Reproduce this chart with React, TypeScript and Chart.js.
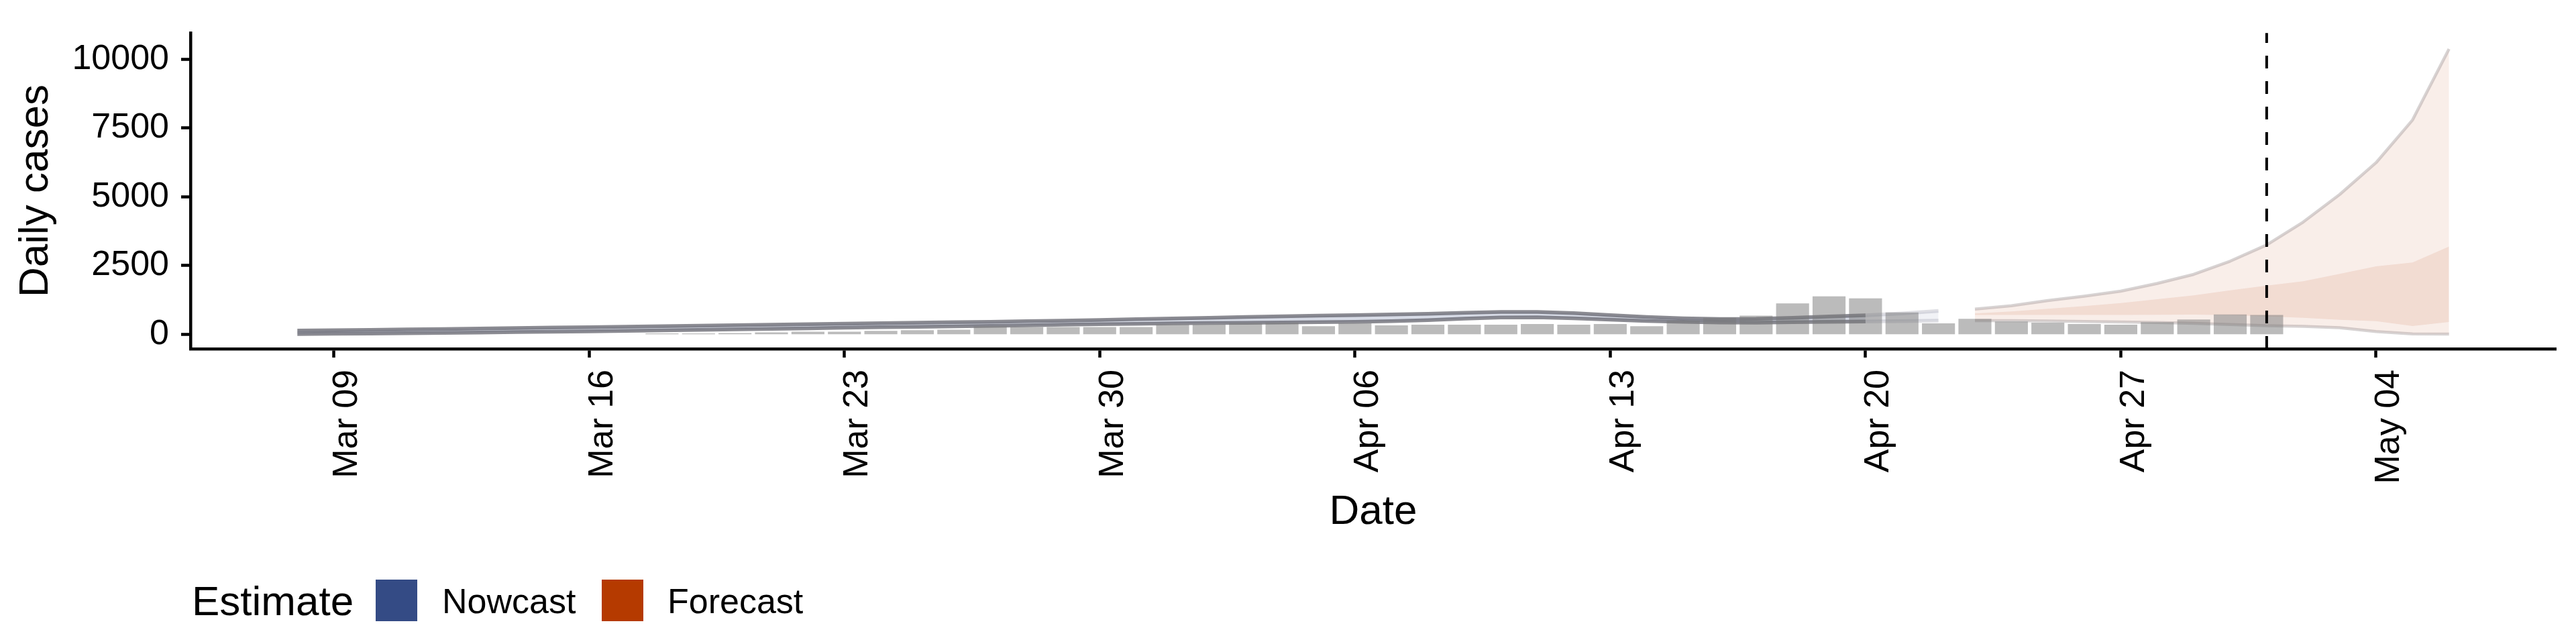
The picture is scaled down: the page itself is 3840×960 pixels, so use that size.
import React, { useEffect, useRef } from "react";
import { Chart, registerables } from "chart.js";

Chart.register(...registerables);

const ORIGIN = "2020-03-09";

const tickDates = ["2020-03-09", "2020-03-16", "2020-03-23", "2020-03-30", "2020-04-06", "2020-04-13", "2020-04-20", "2020-04-27", "2020-05-04"];
const tickLabels = ["Mar 09", "Mar 16", "Mar 23", "Mar 30", "Apr 06", "Apr 13", "Apr 20", "Apr 27", "May 04"];
const yTickValues = [0, 2500, 5000, 7500, 10000];

const caseDates = [
  "2020-03-18", "2020-03-19", "2020-03-20", "2020-03-21", "2020-03-22", "2020-03-23", "2020-03-24", "2020-03-25", "2020-03-26", "2020-03-27",
  "2020-03-28", "2020-03-29", "2020-03-30", "2020-03-31", "2020-04-01", "2020-04-02", "2020-04-03", "2020-04-04", "2020-04-05", "2020-04-06",
  "2020-04-07", "2020-04-08", "2020-04-09", "2020-04-10", "2020-04-11", "2020-04-12", "2020-04-13", "2020-04-14", "2020-04-15", "2020-04-16",
  "2020-04-17", "2020-04-18", "2020-04-19", "2020-04-20", "2020-04-21", "2020-04-22", "2020-04-23", "2020-04-24", "2020-04-25", "2020-04-26",
  "2020-04-27", "2020-04-28", "2020-04-29", "2020-04-30", "2020-05-01",
];
const caseCounts = [
  25, 25, 40, 63, 85, 85, 117, 140, 163, 280,
  257, 257, 257, 257, 350, 350, 397, 414, 290, 390,
  320, 343, 343, 343, 367, 343, 367, 290, 495, 595,
  670, 1115, 1372, 1302, 788, 390, 554, 460, 414, 367,
  343, 437, 530, 717, 694,
];

const nowcastDates = [
  "2020-03-08", "2020-03-09", "2020-03-10", "2020-03-11", "2020-03-12", "2020-03-13", "2020-03-14", "2020-03-15", "2020-03-16", "2020-03-17",
  "2020-03-18", "2020-03-19", "2020-03-20", "2020-03-21", "2020-03-22", "2020-03-23", "2020-03-24", "2020-03-25", "2020-03-26", "2020-03-27",
  "2020-03-28", "2020-03-29", "2020-03-30", "2020-03-31", "2020-04-01", "2020-04-02", "2020-04-03", "2020-04-04", "2020-04-05", "2020-04-06",
  "2020-04-07", "2020-04-08", "2020-04-09", "2020-04-10", "2020-04-11", "2020-04-12", "2020-04-13", "2020-04-14", "2020-04-15", "2020-04-16",
  "2020-04-17", "2020-04-18", "2020-04-19", "2020-04-20", "2020-04-21", "2020-04-22",
];
const nowcastUpper = [
  140, 150, 165, 180, 195, 210, 228, 245, 262, 280,
  298, 316, 334, 352, 370, 388, 405, 422, 440, 458,
  478, 500, 525, 550, 575, 602, 630, 655, 678, 698,
  722, 750, 785, 815, 815, 770, 700, 630, 585, 560,
  565, 600, 650, 690, 760, 850,
];
const nowcastLower = [
  10, 20, 30, 42, 55, 68, 82, 96, 110, 125,
  142, 160, 180, 200, 220, 240, 258, 275, 292, 310,
  330, 350, 368, 385, 398, 410, 421, 432, 444, 458,
  480, 515, 570, 612, 618, 585, 535, 485, 455, 430,
  425, 440, 455, 465, 480, 500,
];
const partialFrom = "2020-04-20";

const forecastDates = [
  "2020-04-23", "2020-04-24", "2020-04-25", "2020-04-26", "2020-04-27", "2020-04-28", "2020-04-29",
  "2020-04-30", "2020-05-01", "2020-05-02", "2020-05-03", "2020-05-04", "2020-05-05", "2020-05-06",
];
const forecastOuterLower = [500, 495, 485, 470, 450, 430, 400, 360, 315, 290, 240, 100, 15, 10];
const forecastInnerLower = [705, 705, 705, 705, 705, 710, 715, 700, 650, 600, 530, 480, 300, 450];
const forecastInnerUpper = [760, 830, 930, 1030, 1140, 1280, 1420, 1600, 1770, 1930, 2200, 2470, 2610, 3190];
const forecastOuterUpper = [920, 1040, 1230, 1390, 1570, 1850, 2180, 2660, 3250, 4080, 5080, 6240, 7790, 10370];

const forecastCutoff = "2020-05-01";

const NOWCAST_COLOR = "#344b85";
const FORECAST_COLOR = "#b53a00";
const FONT = "'Liberation Sans', Arial, Helvetica, sans-serif";

const dayOf = (s: string) => (Date.parse(s) - Date.parse(ORIGIN)) / 86400000;
const pts = (dates: string[], vals: number[]) => dates.map((d, i) => ({ x: dayOf(d), y: vals[i] }));

export default function App() {
  const ref = useRef<HTMLCanvasElement | null>(null);

  useEffect(() => {
    document.body.style.margin = "0";
    const canvas = ref.current;
    if (!canvas) return;
    Chart.defaults.font.family = FONT;
    Chart.defaults.color = "#000";

    const partialDay = dayOf(partialFrom);
    const nowcastLine = "rgba(100,100,110,0.75)";
    const nowcastLineFaded = "rgba(150,150,165,0.3)";
    const nowcastFill = "rgba(54,76,132,0.2)";
    const nowcastFillFaded = "rgba(54,76,132,0.07)";
    const forecastLine = "rgba(160,150,150,0.42)";

    const overlay = {
      id: "overlay",
      afterDatasetsDraw(chart: any) {
        const { ctx, chartArea, scales } = chart;
        const x = scales.x.getPixelForValue(dayOf(forecastCutoff));
        ctx.save();
        ctx.strokeStyle = "#000";
        ctx.lineWidth = 4;
        ctx.setLineDash([19, 19]);
        ctx.beginPath();
        ctx.moveTo(x, chartArea.bottom);
        ctx.lineTo(x, chartArea.top);
        ctx.stroke();
        ctx.restore();
      },
      afterDraw(chart: any) {
        const { ctx } = chart;
        ctx.save();
        ctx.fillStyle = "#000";
        ctx.textBaseline = "alphabetic";
        ctx.textAlign = "left";
        ctx.font = `62px ${FONT}`;
        ctx.fillText("Estimate", 286, 917);
        ctx.fillStyle = NOWCAST_COLOR;
        ctx.fillRect(560, 864, 62, 62);
        ctx.fillStyle = FORECAST_COLOR;
        ctx.fillRect(897, 864, 62, 62);
        ctx.fillStyle = "#000";
        ctx.font = `52px ${FONT}`;
        ctx.fillText("Nowcast", 659, 914);
        ctx.fillText("Forecast", 995, 914);
        ctx.restore();
      },
    };

    const lineBase = { type: "line", pointRadius: 0, tension: 0, borderJoinStyle: "round" };

    const chart = new Chart(canvas, {
      type: "line",
      data: {
        datasets: [
          {
            ...lineBase,
            label: "nowcast lower",
            data: pts(nowcastDates, nowcastLower),
            borderColor: nowcastLine,
            borderWidth: 5.5,
            fill: false,
            order: 3,
            segment: { borderColor: (c: any) => (c.p0.parsed.x >= partialDay ? nowcastLineFaded : nowcastLine) },
          },
          {
            ...lineBase,
            label: "nowcast upper",
            data: pts(nowcastDates, nowcastUpper),
            borderColor: nowcastLine,
            borderWidth: 5.5,
            backgroundColor: nowcastFill,
            fill: "-1",
            order: 3,
            segment: {
              borderColor: (c: any) => (c.p0.parsed.x >= partialDay ? nowcastLineFaded : nowcastLine),
              backgroundColor: (c: any) => (c.p0.parsed.x >= partialDay ? nowcastFillFaded : nowcastFill),
            },
          },
          {
            ...lineBase,
            label: "forecast outer lower",
            data: pts(forecastDates, forecastOuterLower),
            borderColor: forecastLine,
            borderWidth: 4.5,
            fill: false,
            order: 4,
          },
          {
            ...lineBase,
            label: "forecast outer upper",
            data: pts(forecastDates, forecastOuterUpper),
            borderColor: forecastLine,
            borderWidth: 4.5,
            backgroundColor: "rgba(181,58,0,0.085)",
            fill: "-1",
            order: 4,
          },
          {
            ...lineBase,
            label: "forecast inner lower",
            data: pts(forecastDates, forecastInnerLower),
            borderWidth: 0,
            borderColor: "rgba(0,0,0,0)",
            fill: false,
            order: 5,
          },
          {
            ...lineBase,
            label: "forecast inner upper",
            data: pts(forecastDates, forecastInnerUpper),
            borderWidth: 0,
            borderColor: "rgba(0,0,0,0)",
            backgroundColor: "rgba(181,58,0,0.1)",
            fill: "-1",
            order: 5,
          },
          {
            type: "bar",
            label: "cases",
            data: pts(caseDates, caseCounts),
            backgroundColor: "rgba(120,120,120,0.5)",
            borderWidth: 0,
            barThickness: 48.5,
            order: 1,
          },
        ] as any,
      },
      options: {
        responsive: false,
        animation: false,
        devicePixelRatio: 1,
        events: [],
        layout: { padding: { top: 29, right: 30, left: 0, bottom: 0 } },
        plugins: { legend: { display: false }, tooltip: { enabled: false } },
        scales: {
          x: {
            type: "linear",
            offset: false,
            min: -3.93,
            max: 60.93,
            afterBuildTicks: (axis: any) => {
              axis.ticks = tickDates.map((d) => ({ value: dayOf(d) }));
            },
            afterFit: (s: any) => {
              s.height = 440;
            },
            ticks: {
              autoSkip: false,
              minRotation: 90,
              maxRotation: 90,
              padding: 18,
              labelOffset: 20,
              color: "#000",
              font: { size: 52 },
              callback: (_v: any, i: number) => tickLabels[i],
            },
            grid: { display: true, offset: false, drawOnChartArea: false, drawTicks: true, tickLength: 13, tickWidth: 4.5, tickColor: "#000" },
            border: { display: true, color: "#000", width: 4.5 },
            title: { display: true, text: "Date", color: "#000", font: { size: 62 }, padding: { top: 0, bottom: 159 } },
          },
          y: {
            type: "linear",
            min: -526,
            max: 10950,
            afterBuildTicks: (axis: any) => {
              axis.ticks = yTickValues.map((v) => ({ value: v }));
            },
            afterFit: (s: any) => {
              s.width = 284;
            },
            ticks: { padding: 18, color: "#000", font: { size: 52 }, callback: (v: any) => String(v) },
            grid: { display: true, drawOnChartArea: false, drawTicks: true, tickLength: 14, tickWidth: 4.5, tickColor: "#000" },
            border: { display: true, color: "#000", width: 4.5 },
            title: { display: true, text: "Daily cases", color: "#000", font: { size: 62 }, padding: { top: 17, bottom: 0 } },
          },
        },
      } as any,
      plugins: [overlay],
    });

    return () => chart.destroy();
  }, []);

  return (
    <div style={{ width: 3840, height: 960 }}>
      <canvas ref={ref} width={3840} height={960} style={{ display: "block" }} />
    </div>
  );
}
